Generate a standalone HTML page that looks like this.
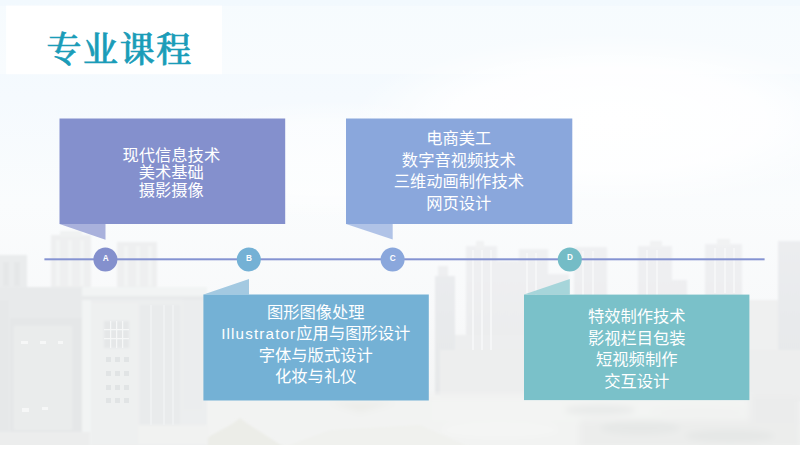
<!DOCTYPE html>
<html lang="zh-CN">
<head>
<meta charset="utf-8">
<title>专业课程</title>
<style>
html,body{margin:0;padding:0;}
body{width:800px;height:449px;overflow:hidden;position:relative;background:#f7fbfe;
  font-family:"Liberation Sans","Noto Sans CJK SC",sans-serif;}
#bg{position:absolute;left:0;top:0;width:800px;height:449px;}
h1{position:absolute;left:46.5px;top:25.4px;margin:0;font-family:"Liberation Serif","Noto Serif CJK SC",serif;
  font-weight:500;font-size:35px;line-height:52px;color:#1b9cb8;-webkit-text-stroke:0.7px #1b9cb8;letter-spacing:1.6px;white-space:nowrap;}
.box{position:absolute;box-sizing:border-box;color:#fff;font-size:16.3px;text-align:center;white-space:nowrap;
  display:flex;flex-direction:column;justify-content:center;}
.box p{margin:0;}
#boxA{left:58.6px;top:118.5px;width:225.5px;height:105.5px;line-height:17.3px;padding-top:3.4px;}
#boxC{left:345.6px;top:118.5px;width:226.5px;height:105.5px;line-height:21.5px;}
#boxB{left:203px;top:294.5px;width:225.5px;height:106px;line-height:21.4px;padding-bottom:5.8px;}
#boxD{left:524px;top:294.5px;width:225.5px;height:105.5px;line-height:21.4px;padding-top:3.8px;}
.lat{font-size:15.2px;letter-spacing:1.15px;}
.dot{position:absolute;width:24px;height:24px;color:#fff;font-size:8.2px;font-weight:700;line-height:24px;text-align:center;}
#dA{left:93.6px;top:246.5px;}
#dB{left:237px;top:246.5px;}
#dC{left:380.8px;top:246.5px;}
#dD{left:558px;top:246.4px;}
#tris{position:absolute;left:0;top:0;width:800px;height:449px;}
</style>
</head>
<body>
<svg id="bg" viewBox="0 0 800 449" width="800" height="449">
  <defs>
    <linearGradient id="sky" x1="0" y1="0" x2="0" y2="1">
      <stop offset="0" stop-color="#f2f9fe"/>
      <stop offset="0.22" stop-color="#f5fafe"/>
      <stop offset="0.45" stop-color="#fafcfd"/>
      <stop offset="0.7" stop-color="#f8f9fa"/>
      <stop offset="1" stop-color="#f1f2f2"/>
    </linearGradient>
    <linearGradient id="tw" gradientUnits="userSpaceOnUse" x1="0" y1="240" x2="0" y2="400">
      <stop offset="0" stop-color="#f0f1f3"/>
      <stop offset="0.5" stop-color="#ecedef"/>
      <stop offset="1" stop-color="#eaebec"/>
    </linearGradient>
    <linearGradient id="tw2" gradientUnits="userSpaceOnUse" x1="0" y1="240" x2="0" y2="400">
      <stop offset="0" stop-color="#ecedf0"/>
      <stop offset="0.5" stop-color="#e8eaec"/>
      <stop offset="1" stop-color="#e6e8e9"/>
    </linearGradient>
    <radialGradient id="cloud" cx="0.5" cy="0.5" r="0.5">
      <stop offset="0" stop-color="#ffffff" stop-opacity="1"/>
      <stop offset="0.6" stop-color="#ffffff" stop-opacity="0.85"/>
      <stop offset="1" stop-color="#ffffff" stop-opacity="0"/>
    </radialGradient>
    <filter id="bl" x="-5%" y="-5%" width="110%" height="110%"><feGaussianBlur stdDeviation="1.1"/></filter>
    <filter id="bl0" x="-5%" y="-5%" width="110%" height="110%"><feGaussianBlur stdDeviation="0.6"/></filter>
    <filter id="bl2" x="-5%" y="-5%" width="110%" height="110%"><feGaussianBlur stdDeviation="3"/></filter>
  </defs>
  <rect width="800" height="449" fill="url(#sky)"/>
  <!-- clouds -->
  <ellipse cx="610" cy="120" rx="260" ry="85" fill="url(#cloud)"/>
  <ellipse cx="330" cy="160" rx="180" ry="60" fill="url(#cloud)" opacity="0.6"/>
  <!-- right skyline -->
  <g filter="url(#bl)">
    <rect x="438" y="266" width="10" height="12" fill="#eeeff1"/>
    <rect x="435" y="276" width="20" height="120" fill="url(#tw2)"/>
    <rect x="466" y="246" width="31" height="150" fill="url(#tw)"/>
    <rect x="476" y="241" width="8" height="8" fill="#f1f2f3"/>
    <rect x="497" y="261" width="22" height="135" fill="url(#tw)"/>
    <rect x="519" y="249" width="29" height="147" fill="url(#tw)"/>
    <rect x="548" y="274" width="21" height="122" fill="url(#tw)"/>
    <rect x="574" y="247" width="33" height="150" fill="url(#tw)"/>
    <rect x="638" y="246" width="34" height="150" fill="url(#tw)"/>
    <rect x="650" y="241" width="12" height="7" fill="#f1f2f3"/>
    <rect x="672" y="280" width="15" height="116" fill="url(#tw)"/>
    <rect x="705" y="244" width="37" height="152" fill="url(#tw)"/>
    <rect x="717" y="239" width="13" height="7" fill="#f1f2f3"/>
    <rect x="742" y="300" width="36" height="100" fill="#eff0f0"/>
    <rect x="778" y="241" width="28" height="160" fill="url(#tw2)"/>
    <rect x="455" y="335" width="70" height="61" fill="#edeeef"/>
    <rect x="440" y="350" width="366" height="50" fill="#edeeee"/>
  </g>
  <g fill="#f5f6f7" filter="url(#bl0)">
    <rect x="472" y="250" width="2" height="100"/><rect x="481" y="250" width="2" height="100"/><rect x="490" y="250" width="2" height="100"/>
    <rect x="526" y="253" width="2" height="45"/><rect x="535" y="253" width="2" height="45"/>
    <rect x="582" y="251" width="2" height="45"/><rect x="592" y="251" width="2" height="45"/>
    <rect x="646" y="250" width="2" height="45"/><rect x="656" y="250" width="2" height="45"/>
    <rect x="714" y="248" width="2" height="45"/><rect x="724" y="248" width="2" height="45"/><rect x="733" y="248" width="2" height="45"/>
  </g>
  <!-- ground right / middle -->
  <g filter="url(#bl2)">
    <rect x="200" y="394" width="600" height="60" fill="#f2f3f2"/>
    <rect x="430" y="400" width="370" height="22" fill="#f3f4f3"/>
    <rect x="580" y="420" width="220" height="28" fill="#ecedec"/>
    <rect x="750" y="395" width="50" height="30" fill="#ebecec"/>
    <polygon points="330,402 360,412 395,402" fill="#ecede9"/>
    <ellipse cx="640" cy="428" rx="40" ry="7" fill="#e6e8e7"/>
    <ellipse cx="730" cy="436" rx="45" ry="6" fill="#e5e7e6"/>
    <ellipse cx="600" cy="410" rx="35" ry="5" fill="#e8eae9"/>
    <ellipse cx="700" cy="412" rx="50" ry="5" fill="#f1f2f1"/>
    <ellipse cx="500" cy="430" rx="60" ry="8" fill="#f4f5f4"/>
  </g>
  <g filter="url(#bl)">
    <polygon points="190,447 232,424 240,418 248,424 284,447" fill="#ecede8"/>
    <polygon points="284,447 330,430 420,425 470,447" fill="#f0f1ee"/>
  </g>
  <!-- left buildings -->
  <g filter="url(#bl)">
    <rect x="-6" y="255" width="33" height="34" fill="#eaeced"/>
    <rect x="3" y="262" width="6" height="24" fill="#e5e7e8"/>
    <rect x="14" y="262" width="6" height="24" fill="#e5e7e8"/>
    <rect x="51" y="235" width="40" height="54" fill="#eeeff0"/>
    <rect x="60" y="231" width="22" height="6" fill="#f0f2f2"/>
    <rect x="56" y="240" width="4" height="46" fill="#f3f4f4"/>
    <rect x="68" y="240" width="4" height="46" fill="#f3f4f4"/>
    <rect x="80" y="240" width="4" height="46" fill="#f3f4f4"/>
    <rect x="117" y="242" width="40" height="47" fill="#eeeff0"/>
    <rect x="124" y="246" width="4" height="40" fill="#f3f4f4"/>
    <rect x="136" y="246" width="4" height="40" fill="#f3f4f4"/>
    <rect x="148" y="246" width="4" height="40" fill="#f3f4f4"/>
    <rect x="-6" y="287" width="88" height="160" fill="#e8eaeb"/>
    <rect x="82" y="287" width="125" height="160" fill="#eceeef"/>
    <rect x="82" y="287" width="125" height="9" fill="#f2f4f4"/>
    <rect x="-6" y="296" width="213" height="4" fill="#e8eaeb"/>
    <rect x="10" y="318" width="72" height="117" fill="#e5e7e8"/>
    <rect x="14" y="326" width="58" height="104" fill="#eaecec"/>
    <rect x="82" y="300" width="9" height="147" fill="#f2f4f4"/>
    <rect x="91" y="303" width="47" height="142" fill="#eef0f0"/>
    <rect x="104" y="321" width="25" height="27" fill="#e5e7e8"/>
    <rect x="140" y="305" width="40" height="120" fill="#e9ebec"/>
    <rect x="183" y="300" width="20" height="110" fill="#ebedee"/>
    <rect x="-6" y="300" width="15" height="147" fill="#e6e8e9"/>
    <rect x="-6" y="432" width="96" height="16" fill="#eceded"/>
    <rect x="138" y="425" width="70" height="20" fill="#f1f2f1"/>
  </g>
  <g fill="#f6f7f7" filter="url(#bl0)">
    <rect x="21" y="341" width="7" height="3"/><rect x="40" y="341" width="6" height="3"/><rect x="58" y="341" width="5" height="3"/>
    <rect x="22" y="408" width="7" height="4"/><rect x="42" y="407" width="6" height="3"/>
    <rect x="110" y="321" width="1.2" height="27"/><rect x="116" y="321" width="1.2" height="27"/><rect x="122" y="321" width="1.2" height="27"/>
    <rect x="104" y="329" width="25" height="1.2"/><rect x="104" y="338" width="25" height="1.2"/>
    <rect x="150" y="305" width="2" height="120" fill="#eff1f2"/><rect x="163" y="305" width="2" height="120" fill="#eff1f2"/><rect x="172" y="305" width="2" height="120" fill="#eff1f2"/>
  </g>
  <g fill="#e1e4e5" filter="url(#bl0)">
    <rect x="106" y="357" width="5" height="5"/><rect x="115" y="357" width="5" height="5"/><rect x="124" y="357" width="5" height="5"/>
    <rect x="106" y="371" width="5" height="5"/><rect x="115" y="371" width="5" height="5"/><rect x="124" y="371" width="5" height="5"/>
    <rect x="106" y="385" width="5" height="5"/><rect x="115" y="385" width="5" height="5"/><rect x="124" y="385" width="5" height="5"/>
    <rect x="106" y="398" width="5" height="5"/><rect x="115" y="398" width="5" height="5"/><rect x="124" y="398" width="5" height="5"/>
  </g>
  <rect x="0" y="445" width="800" height="4" fill="#ffffff"/>
</svg>
<svg id="tris" viewBox="0 0 800 449" width="800" height="449">
  <rect x="0" y="5.6" width="800" height="68.6" fill="#ffffff" fill-opacity="0.35"/>
  <rect x="6.2" y="5.6" width="215.8" height="68.6" fill="#ffffff"/>
  <polygon points="59.5,224 105.5,224 105.5,239.8" fill="#a9b1dc"/>
  <polygon points="346,224 392.7,224 392.7,239.6" fill="#b0c3e7"/>
  <polygon points="203.5,294.6 249,294.6 249,279" fill="#a3c9e1"/>
  <polygon points="524,294.6 569.8,294.6 569.8,279" fill="#a6d5da"/>
  <rect x="59.5" y="118.5" width="225.7" height="105.5" fill="#8490cd"/>
  <rect x="346" y="118.5" width="226.3" height="105.5" fill="#8aa7dc"/>
  <rect x="203.4" y="294.5" width="225.4" height="106" fill="#74b1d5"/>
  <rect x="524" y="294.6" width="225.4" height="105.5" fill="#7ac1c9"/>
  <rect x="44.4" y="258.3" width="720.2" height="2" fill="#8593d2"/>
  <circle cx="105.4" cy="259.4" r="12" fill="#8490cd"/>
  <circle cx="248.8" cy="259.4" r="12" fill="#74b1d5"/>
  <circle cx="392.6" cy="259.4" r="12" fill="#8aa7dc"/>
  <circle cx="569.8" cy="259.4" r="12" fill="#74bcc6"/>
</svg>
<h1>专业课程</h1>
<div class="dot" id="dA">A</div>
<div class="dot" id="dB">B</div>
<div class="dot" id="dC">C</div>
<div class="dot" id="dD">D</div>
<div class="box" id="boxA"><p>现代信息技术</p><p>美术基础</p><p>摄影摄像</p></div>
<div class="box" id="boxC"><p>电商美工</p><p>数字音视频技术</p><p>三维动画制作技术</p><p>网页设计</p></div>
<div class="box" id="boxB"><p>图形图像处理</p><p><span class="lat">Illustrator</span>应用与图形设计</p><p>字体与版式设计</p><p>化妆与礼仪</p></div>
<div class="box" id="boxD"><p>特效制作技术</p><p>影视栏目包装</p><p>短视频制作</p><p>交互设计</p></div>
</body>
</html>
